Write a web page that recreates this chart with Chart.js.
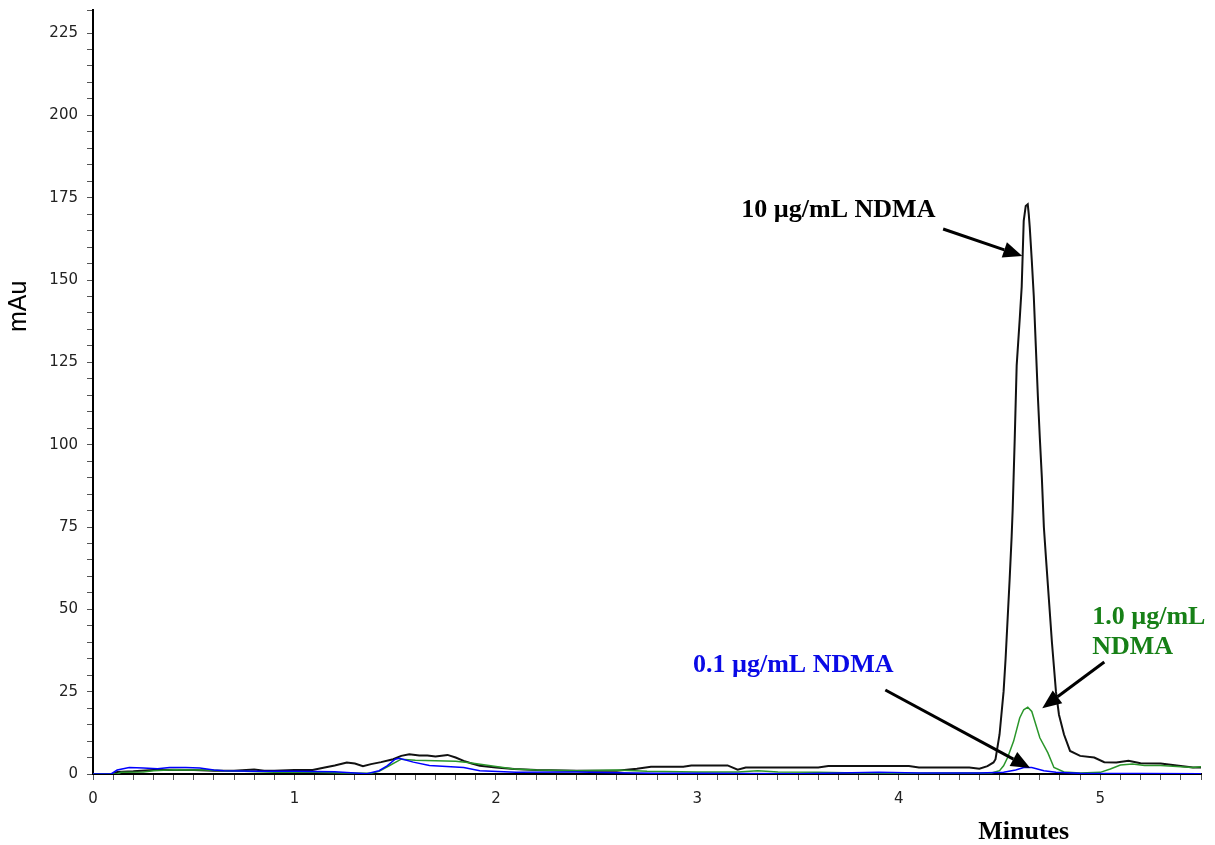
<!DOCTYPE html>
<html>
<head>
<meta charset="utf-8">
<script src="https://cdn.jsdelivr.net/npm/chart.js@4"></script>
<style>
  body { margin: 0; background: #fff; }
  canvas { display: block; }
</style>
</head>
<body>
<canvas id="chromatogram" width="1215" height="845"></canvas>
<script>
// retention time (min), absorbance (mAu)
const ndma10 = [
    [0, 0], [0.10, 0], [0.12, 0.6], [0.20, 0.8], [0.30, 1.2], [0.40, 1.3], [0.50, 1.2], [0.60, 1.0],
    [0.70, 1.0], [0.80, 1.4], [0.85, 1.0], [0.90, 1.0], [1.00, 1.2], [1.09, 1.2], [1.15, 2.0], [1.20, 2.6],
    [1.26, 3.5], [1.30, 3.2], [1.34, 2.4], [1.38, 3.0], [1.43, 3.6], [1.49, 4.5], [1.53, 5.5], [1.57, 6.0],
    [1.62, 5.6], [1.66, 5.6], [1.70, 5.3], [1.76, 5.8], [1.80, 5.0], [1.84, 4.0], [1.88, 3.2], [1.92, 2.5],
    [2.00, 2.0], [2.09, 1.5], [2.20, 1.2], [2.40, 1.0], [2.60, 1.0], [2.70, 1.6], [2.77, 2.2], [2.93, 2.2],
    [2.97, 2.6], [3.15, 2.6], [3.20, 1.3], [3.24, 2.0], [3.60, 2.0], [3.65, 2.4], [4.05, 2.4], [4.10, 2.0],
    [4.35, 2.0], [4.40, 1.6], [4.44, 2.4], [4.47, 3.5], [4.48, 4.5], [4.50, 12], [4.52, 25], [4.53, 35],
    [4.55, 59], [4.56, 72], [4.565, 80], [4.575, 101], [4.585, 124], [4.60, 138], [4.61, 148], [4.615, 158],
    [4.62, 168], [4.63, 172.5], [4.64, 173], [4.645, 170], [4.65, 166], [4.66, 156], [4.67, 145], [4.68, 130],
    [4.69, 115], [4.70, 102], [4.71, 90], [4.72, 75], [4.73, 66], [4.745, 53], [4.76, 40], [4.78, 25],
    [4.795, 18], [4.82, 12], [4.85, 7], [4.90, 5.5], [4.97, 5], [5.02, 3.6], [5.08, 3.5], [5.14, 4.0],
    [5.20, 3.3], [5.30, 3.2], [5.40, 2.4], [5.46, 2.0], [5.50, 2.0]
];

const ndma1 = [
    [0, 0], [0.12, 0], [0.14, 0.5], [0.25, 0.6], [0.30, 1.0], [0.40, 1.3], [0.55, 1.2], [0.65, 1.0],
    [0.75, 0.8], [0.90, 0.5], [1.10, 0.5], [1.25, 0.3], [1.38, 0.2], [1.42, 0.8], [1.47, 2.5], [1.53, 4.5],
    [1.60, 4.2], [1.70, 4.0], [1.80, 3.9], [1.86, 3.5], [1.94, 2.8], [2.00, 2.3], [2.09, 1.5], [2.20, 1.2],
    [2.40, 1.0], [2.60, 1.2], [2.75, 0.8], [3.00, 0.6], [3.20, 0.6], [3.30, 1.0], [3.40, 0.6], [3.60, 0.5],
    [3.80, 0.3], [4.00, 0.2], [4.30, 0.3], [4.46, 0.3], [4.50, 1.0], [4.52, 2.5], [4.54, 5], [4.57, 10],
    [4.60, 17], [4.62, 19.5], [4.64, 20.3], [4.66, 19], [4.67, 17], [4.70, 11], [4.74, 6.4], [4.77, 2],
    [4.82, 0.6], [4.90, 0.3], [5.00, 0.5], [5.05, 1.5], [5.10, 2.7], [5.16, 3.0], [5.22, 2.6], [5.30, 2.6],
    [5.40, 2.2], [5.46, 2.0], [5.50, 2.2]
];

const ndma01 = [
    [0, 0], [0.09, 0], [0.12, 1.2], [0.18, 2.0], [0.25, 1.8], [0.32, 1.6], [0.38, 2.0], [0.46, 2.0],
    [0.53, 1.8], [0.60, 1.2], [0.65, 1.0], [0.80, 0.8], [1.00, 0.8], [1.20, 0.7], [1.30, 0.3], [1.36, 0.1],
    [1.42, 1.0], [1.46, 2.5], [1.50, 4.5], [1.52, 4.8], [1.59, 3.6], [1.67, 2.6], [1.84, 2.0], [1.92, 1.0],
    [2.10, 0.5], [2.40, 0.6], [2.60, 0.4], [2.80, 0.2], [3.00, 0.2], [3.50, 0.1], [3.90, 0.5], [4.10, 0.3],
    [4.40, 0.3], [4.52, 0.5], [4.58, 1.2], [4.62, 2.0], [4.66, 2.0], [4.72, 1.0], [4.78, 0.5], [4.90, 0.2],
    [5.50, 0.1]
];

const xRange = [0, 5.5];
const yRange = [0, 232];

// text labels and arrows, in chart units
const notes = [
    { text: '10 µg/mL NDMA', x: 3.70, y: 171.3, color: '#000000', align: 'center' },
    { text: '1.0 µg/mL', x: 4.96, y: 47.7, color: '#178017', align: 'left' },
    { text: 'NDMA', x: 4.96, y: 38.6, color: '#178017', align: 'left' },
    { text: '0.1 µg/mL NDMA', x: 3.476, y: 33.1, color: '#0a0ae6', align: 'center' }
];
const arrows = [
    { from: [4.22, 165.5], to: [4.613, 157.3] },
    { from: [5.02, 34.0], to: [4.712, 20.0] },
    { from: [3.933, 25.5], to: [4.652, 1.8] }
];

function toPoints(series) {
    return series.map(p => ({ x: p[0], y: p[1] }));
}

function drawArrow(ctx, x1, y1, x2, y2) {
    const angle = Math.atan2(y2 - y1, x2 - x1);
    const headLen = 19, headHalf = 8;
    const bx = x2 - headLen * Math.cos(angle);
    const by = y2 - headLen * Math.sin(angle);
    ctx.strokeStyle = '#000';
    ctx.lineWidth = 3;
    ctx.beginPath();
    ctx.moveTo(x1, y1);
    ctx.lineTo(bx, by);
    ctx.stroke();
    ctx.fillStyle = '#000';
    ctx.beginPath();
    ctx.moveTo(x2, y2);
    ctx.lineTo(bx + headHalf * Math.sin(angle), by - headHalf * Math.cos(angle));
    ctx.lineTo(bx - headHalf * Math.sin(angle), by + headHalf * Math.cos(angle));
    ctx.closePath();
    ctx.fill();
}

const annotationPlugin = {
    id: 'annotations',
    afterDatasetsDraw(chart) {
        const { ctx, chartArea } = chart;
        const x = chart.scales.x, y = chart.scales.y;
        ctx.save();
        arrows.forEach(a => drawArrow(ctx,
            x.getPixelForValue(a.from[0]), y.getPixelForValue(a.from[1]),
            x.getPixelForValue(a.to[0]), y.getPixelForValue(a.to[1])));

        ctx.font = 'bold 26px "Liberation Serif", "Times New Roman", serif';
        ctx.textBaseline = 'middle';
        notes.forEach(n => {
            ctx.fillStyle = n.color;
            ctx.textAlign = n.align;
            ctx.fillText(n.text, x.getPixelForValue(n.x), y.getPixelForValue(n.y));
        });

        // axis titles sit off-centre in the original, so they are drawn here
        ctx.fillStyle = '#000';
        ctx.textAlign = 'center';
        ctx.fillText('Minutes', x.getPixelForValue(4.62), chartArea.bottom + 58);

        ctx.translate(19, y.getPixelForValue(142));
        ctx.rotate(-Math.PI / 2);
        ctx.font = '25px "Liberation Sans", Arial, sans-serif';
        ctx.fillText('mAu', 0, 0);
        ctx.restore();
    }
};

const tickFont = { family: '"DejaVu Sans", sans-serif', size: 15 };

new Chart(document.getElementById('chromatogram').getContext('2d'), {
    type: 'line',
    data: {
        datasets: [
            { label: '0.1 µg/mL NDMA', data: toPoints(ndma01), borderColor: '#0000ff', borderWidth: 1.5 },
            { label: '1.0 µg/mL NDMA', data: toPoints(ndma1), borderColor: '#2a962a', borderWidth: 1.5 },
            { label: '10 µg/mL NDMA', data: toPoints(ndma10), borderColor: '#111111', borderWidth: 2 }
        ]
    },
    options: {
        responsive: false,
        animation: false,
        layout: { padding: { top: 10, right: 14, left: 0, bottom: 0 } },
        elements: {
            point: { radius: 0 },
            line: { tension: 0, fill: false }
        },
        scales: {
            x: {
                type: 'linear',
                min: xRange[0],
                max: xRange[1],
                afterFit: scale => {
                    scale.height = 71;
                    scale.paddingLeft = 0;
                    scale.paddingRight = 0;
                },
                border: { color: '#000', width: 2 },
                grid: { drawOnChartArea: false, drawTicks: true, tickLength: 6, tickColor: '#555' },
                ticks: {
                    stepSize: 0.1,
                    maxTicksLimit: 1000,
                    autoSkip: false,
                    maxRotation: 0,
                    padding: 10,
                    color: '#222',
                    font: tickFont,
                    callback: v => Math.abs(v - Math.round(v)) < 1e-6 ? String(Math.round(v)) : ''
                }
            },
            y: {
                min: yRange[0],
                max: yRange[1],
                afterFit: scale => {
                    scale.width = 93;
                    scale.paddingTop = 0;
                    scale.paddingBottom = 0;
                },
                border: { color: '#000', width: 2 },
                grid: { drawOnChartArea: false, drawTicks: true, tickLength: 6, tickColor: '#555' },
                ticks: {
                    stepSize: 5,
                    maxTicksLimit: 1000,
                    autoSkip: false,
                    padding: 9,
                    color: '#222',
                    font: tickFont,
                    callback: v => v % 25 === 0 ? String(v) : ''
                }
            }
        },
        plugins: {
            legend: { display: false },
            tooltip: { enabled: false }
        }
    },
    plugins: [annotationPlugin]
});
</script>
</body>
</html>
